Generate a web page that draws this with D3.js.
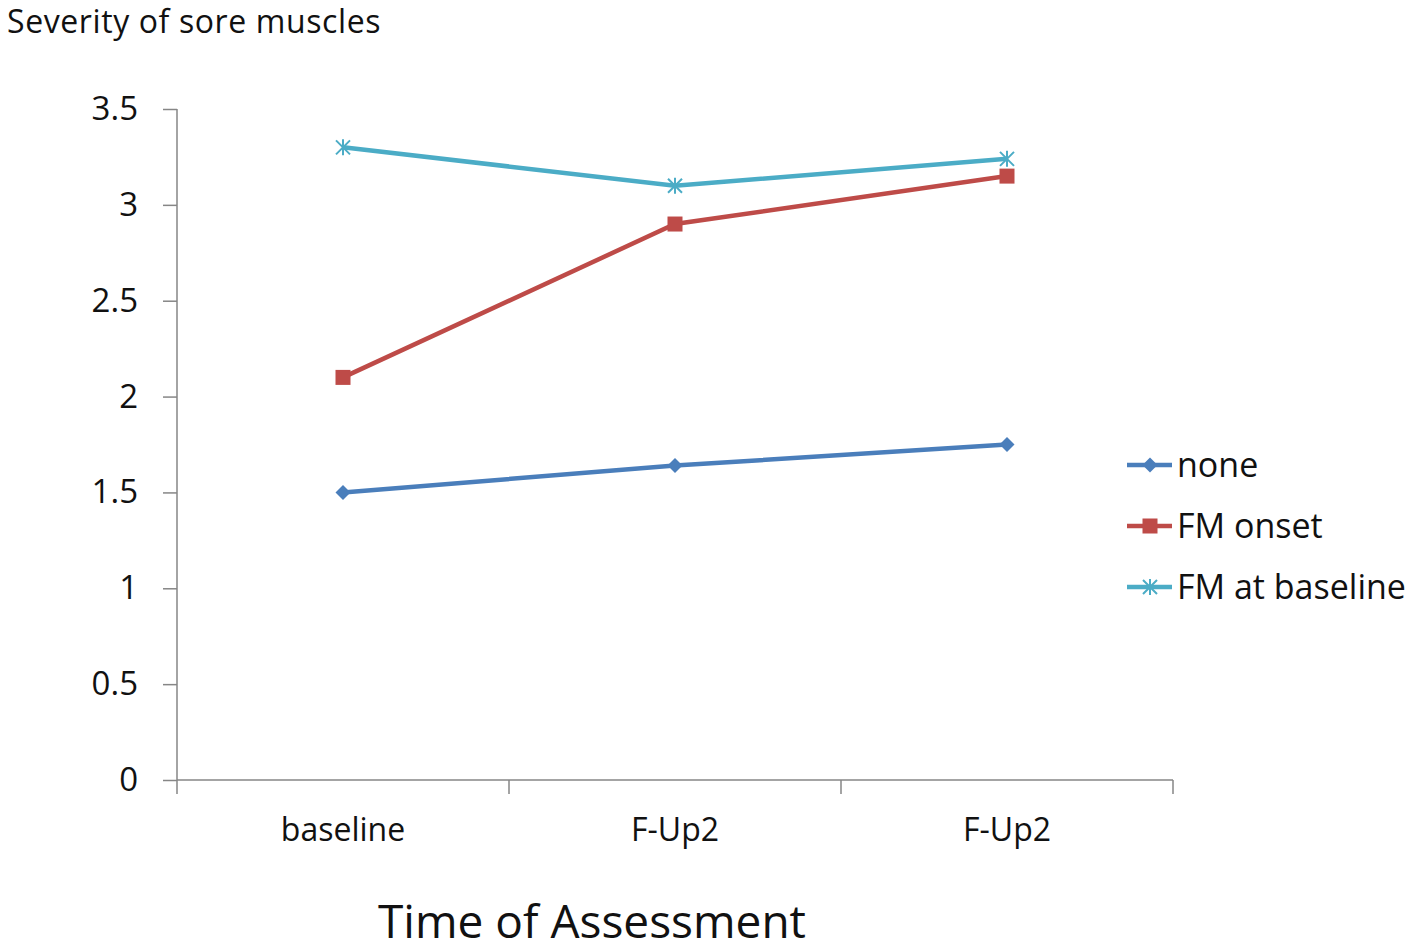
<!DOCTYPE html>
<html>
<head>
<meta charset="utf-8">
<script src="https://cdn.jsdelivr.net/npm/d3@7"></script>
<style>
  body { margin: 0; background: #fff; }
  text { font-family: "Open Sans", "Noto Sans", sans-serif; fill: #111; }
</style>
</head>
<body>
<svg id="chart" width="1417" height="952"></svg>
<script>
// categories and series
var categories = ["baseline", "F-Up2", "F-Up2"];
var noneValues = [1.50, 1.64, 1.75];
var onsetValues = [2.10, 2.90, 3.15];
var baselineFMValues = [3.30, 3.10, 3.24];
var yTicks = [0, 0.5, 1, 1.5, 2, 2.5, 3, 3.5];
var seriesNames = ["none", "FM onset", "FM at baseline"];

var series = [
  {name: seriesNames[0], values: noneValues, color: "#4a7ebb", marker: "diamond"},
  {name: seriesNames[1], values: onsetValues, color: "#be4b48", marker: "square"},
  {name: seriesNames[2], values: baselineFMValues, color: "#4bacc6", marker: "star"}
];

var svg = d3.select("#chart");
var plotLeft = 177, plotRight = 1173, plotTop = 109, plotBottom = 780;

var x = d3.scaleBand().domain(d3.range(categories.length)).range([plotLeft, plotRight]);
var y = d3.scaleLinear().domain([0, 3.5]).range([plotBottom, plotTop]);

// y axis
var yAxis = svg.append("g").attr("transform", "translate(" + plotLeft + ",0)")
  .call(d3.axisLeft(y).tickValues(yTicks).tickSize(14).tickPadding(25)
    .tickFormat(function(d){ return d; }));
yAxis.selectAll("text").style("font-size", "33px");

// x axis
var xAxis = svg.append("g").attr("transform", "translate(0," + plotBottom + ")")
  .call(d3.axisBottom(x).tickSize(0).tickPadding(38).tickFormat(function(i){ return categories[i]; }));
xAxis.selectAll("text").style("font-size", "32px");
// tick marks at the category boundaries
xAxis.selectAll("line.bound").data(d3.range(categories.length + 1)).enter()
  .append("line").attr("class", "bound")
  .attr("x1", function(i){ return plotLeft + i * x.step(); })
  .attr("x2", function(i){ return plotLeft + i * x.step(); })
  .attr("y1", 0).attr("y2", 14);
svg.selectAll(".domain, .tick line, line.bound").attr("stroke", "#868686").attr("stroke-width", 1.5);
xAxis.select(".domain").attr("d", "M" + plotLeft + ",0H" + plotRight);
yAxis.select(".domain").attr("d", "M0," + plotTop + "V" + plotBottom);

function drawMarker(g, type, color) {
  if (type == "diamond") {
    g.append("path").attr("d", "M0,-7.5L7.5,0L0,7.5L-7.5,0Z").attr("fill", color);
  } else if (type == "square") {
    g.append("rect").attr("x", -7.5).attr("y", -7.5).attr("width", 15).attr("height", 15).attr("fill", color);
  } else {
    g.append("path").attr("d", "M-7,-7L7,7M-7,7L7,-7M0,-8V8")
      .attr("stroke", color).attr("stroke-width", 2).attr("fill", "none");
  }
}

var line = d3.line()
  .x(function(d, i){ return x(i) + x.bandwidth() / 2; })
  .y(function(d){ return y(d); });

series.forEach(function(s) {
  svg.append("path").datum(s.values).attr("d", line)
    .attr("fill", "none").attr("stroke", s.color).attr("stroke-width", 4.5);
  s.values.forEach(function(v, i) {
    var g = svg.append("g").attr("transform", "translate(" + (x(i) + x.bandwidth() / 2) + "," + y(v) + ")");
    drawMarker(g, s.marker, s.color);
  });
});

// legend
var legend = svg.append("g");
series.forEach(function(s, i) {
  var ly = 465 + i * 61;
  legend.append("line").attr("x1", 1127).attr("x2", 1172).attr("y1", ly).attr("y2", ly)
    .attr("stroke", s.color).attr("stroke-width", 4.5);
  var g = legend.append("g").attr("transform", "translate(1150," + ly + ")");
  drawMarker(g, s.marker, s.color);
  legend.append("text").attr("x", 1177).attr("y", ly).attr("dy", "0.35em")
    .style("font-size", "34px").text(s.name);
});

// titles
svg.append("text").attr("x", 7).attr("y", 33).style("font-size", "32px")
  .style("letter-spacing", "0.6px").text("Severity of sore muscles");
svg.append("text").attr("x", 592).attr("y", 938).attr("text-anchor", "middle")
  .style("font-size", "46px").text("Time of Assessment");
</script>
</body>
</html>
